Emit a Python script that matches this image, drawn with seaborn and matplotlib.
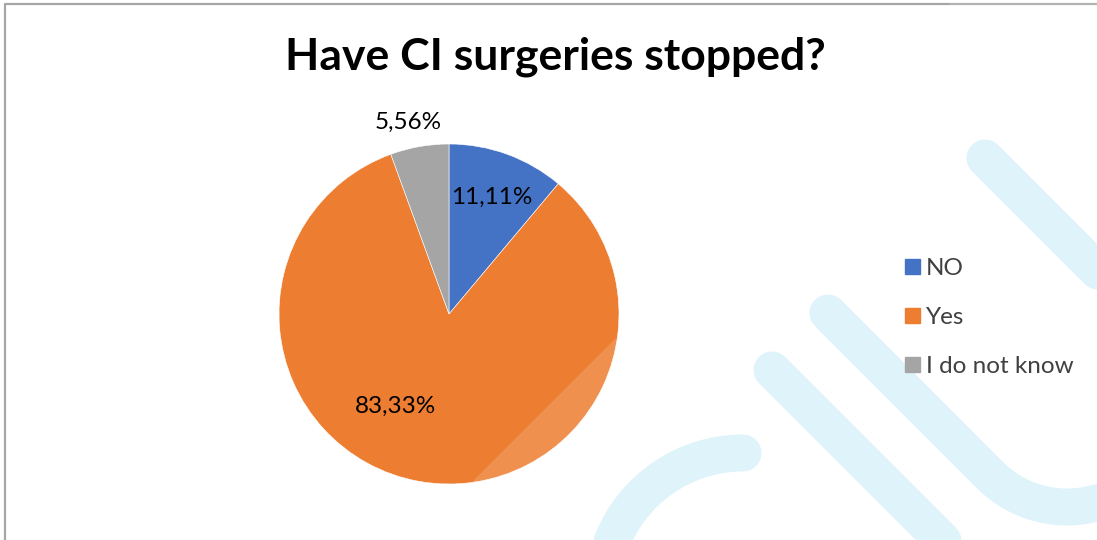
import matplotlib.pyplot as plt
import matplotlib.patches as mpatches
import seaborn as sns
import numpy as np

# data
categories = ["NO", "Yes", "I do not know"]
shares = [11.11, 83.33, 5.56]
colors = ["#4472C4", "#ED7D31", "#A5A5A5"]
title = "Have CI surgeries stopped?"

sns.set_theme(style="white")
plt.rcParams['font.family'] = ['Lato', 'DejaVu Sans']

W, H = 1097, 540
fig = plt.figure(figsize=(W / 100, H / 100), dpi=100)
fig.patch.set_facecolor("white")

# background decoration (pixel coords, y down)
bg = fig.add_axes([0, 0, 1, 1], zorder=0)
bg.set_xlim(0, W)
bg.set_ylim(H, 0)
bg.axis("off")
wm = "#D9F2FA"
lw = 37 * 72 / 100
bg.plot([985, 1160], [158, 333], color=wm, lw=lw, solid_capstyle="round")
t = np.radians(np.linspace(135, 20, 60))
bx = np.concatenate([[828], 1067 + 109 * np.cos(t)])
by = np.concatenate([[313], 398 + 109 * np.sin(t)])
bg.plot(bx, by, color=wm, lw=lw, solid_capstyle="round", solid_joinstyle="round")
bg.plot([772, 980], [370, 578], color=wm, lw=lw, solid_capstyle="round")
p = np.radians(np.linspace(0, 100, 60))
bg.plot(743 - 141 * np.sin(p), 594 - 141 * np.cos(p), color=wm, lw=lw,
        solid_capstyle="round")
# chart border
bg.plot([5, 5, W + 5], [H + 5, 4, 4], color="#A6A6A6", lw=1.6)

# pie
cx, cy, r = 449, 314, 170
ax = fig.add_axes([(cx - r) / W, (H - cy - r) / H, 2 * r / W, 2 * r / H], zorder=1)
ax.set_facecolor("none")
wedges, _ = ax.pie(shares, colors=colors, startangle=90, counterclock=False,
                   radius=1, wedgeprops=dict(edgecolor="white", linewidth=0.4))
ax.set_xlim(-1, 1)
ax.set_ylim(-1, 1)
ax.set_aspect("equal")

# data labels (excel best fit)
label_r = [0.73, 0.63, 1.15]
label_shift = [0, -20, 2]
for w, v, rr, sh in zip(wedges, shares, label_r, label_shift):
    ang = np.radians((w.theta1 + w.theta2) / 2 + sh)
    ax.text(rr * np.cos(ang), rr * np.sin(ang), f"{v:.2f}".replace(".", ",") + "%",
            ha="center", va="center", fontsize=17.5, color="black", clip_on=False)

fig.text(555 / W, 1 - 57 / H, title, ha="center", va="center",
         fontsize=32, fontweight="bold", color="black")

handles = [mpatches.Patch(color=c, label=l) for c, l in zip(colors, categories)]
leg = fig.legend(handles=handles, loc="upper left", bbox_to_anchor=(893 / W, 1 - 246 / H),
                 frameon=False, fontsize=17.5, handlelength=0.6, handleheight=0.6,
                 handletextpad=0.25, labelspacing=1.15, borderpad=0)
for txt in leg.get_texts():
    txt.set_color("#404040")

# faint white overlay on the lower-right part
ov = fig.add_axes([0, 0, 1, 1], zorder=5)
ov.set_xlim(0, W)
ov.set_ylim(H, 0)
ov.axis("off")
ov.add_patch(mpatches.Polygon([[954, 0], [W + 10, 0], [W + 10, H + 10], [954 - H - 10, H + 10]],
                              closed=True, color="white", alpha=0.15, lw=0))

fig.savefig("out.png", dpi=100)
